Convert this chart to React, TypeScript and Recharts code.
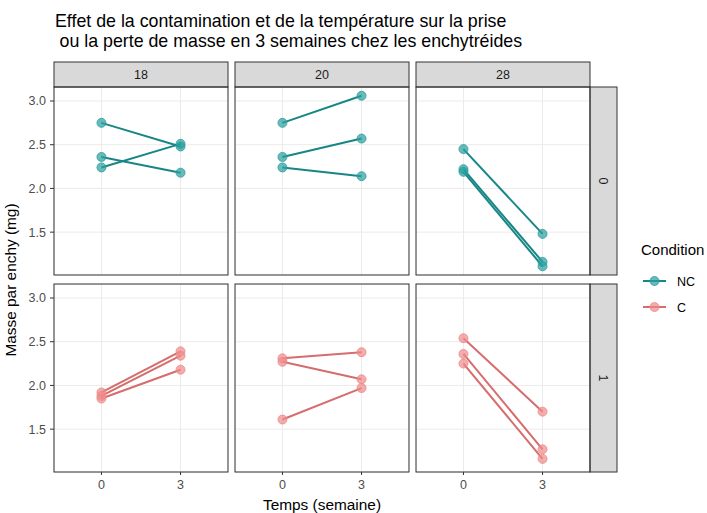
import { CartesianGrid, Line, LineChart, XAxis, YAxis } from "recharts"

// semaines d'exposition
const temps = [0, 3]
const temperatures = ["18", "20", "28"]
const contaminations = ["0", "1"]
const conditions = ["NC", "C"]

// masse par enchy (mg), 3 réplicats par panneau : [semaine 0, semaine 3]
const nc18 = [[2.75, 2.48], [2.24, 2.51], [2.36, 2.18]]
const nc20 = [[2.75, 3.06], [2.36, 2.57], [2.24, 2.14]]
const nc28 = [[2.45, 1.48], [2.22, 1.16], [2.19, 1.11]]
const c18 = [[1.92, 2.39], [1.88, 2.34], [1.85, 2.18]]
const c20 = [[2.31, 2.38], [2.27, 2.07], [1.61, 1.97]]
const c28 = [[2.54, 1.7], [2.36, 1.27], [2.25, 1.16]]

const yMajor = [1.5, 2.0, 2.5, 3.0]
const yGrid = [1.25, 1.5, 1.75, 2.0, 2.25, 2.5, 2.75, 3.0]
const xTicks = [0, 3]

const colors: Record<string, { line: string; dot: string }> = {
  NC: { line: "#188686", dot: "#2a9e9e" },
  C: { line: "#d66c6c", dot: "#ee8a8a" },
}

const FONT = "'Liberation Sans', Arial, sans-serif"
const COLS = [54, 235, 416]
const ROWS = [87, 284]
const PW = 174
const PH = 188
const YW = 40
const XH = 24
const TICK_SIZE = 4
const TICK_MARGIN = 4

const panels = [
  { row: 0, col: 0, cond: "NC", reps: nc18 },
  { row: 0, col: 1, cond: "NC", reps: nc20 },
  { row: 0, col: 2, cond: "NC", reps: nc28 },
  { row: 1, col: 0, cond: "C", reps: c18 },
  { row: 1, col: 1, cond: "C", reps: c20 },
  { row: 1, col: 2, cond: "C", reps: c28 },
]

function YTick(props: any) {
  const { x, y, payload } = props
  if (!yMajor.includes(payload.value)) return <g />
  return (
    <g>
      <line x1={x + TICK_MARGIN} x2={x + TICK_MARGIN + TICK_SIZE} y1={y} y2={y} stroke="#333333" />
      <text x={x} y={y} dy="0.36em" textAnchor="end" fill="#4d4d4d" fontSize={12.5} fontFamily={FONT}>
        {payload.value.toFixed(1)}
      </text>
    </g>
  )
}

function Panel({ row, col, cond, reps }: { row: number; col: number; cond: string; reps: number[][] }) {
  const data = temps.map((t, i) => {
    const d: Record<string, number> = { t }
    reps.forEach((r, k) => (d["r" + k] = r[i]))
    return d
  })
  const left = col === 0
  const bottom = row === 1
  const w = PW + (left ? YW : 0)
  const h = PH + (bottom ? XH : 0)
  const c = colors[cond]
  return (
    <div style={{ position: "absolute", left: COLS[col] - (left ? YW : 0), top: ROWS[row] }}>
      <LineChart width={w} height={h} data={data} margin={{ top: 0, right: 0, bottom: 0, left: 0 }}>
        <CartesianGrid stroke="#ebebeb" strokeWidth={1} />
        <XAxis
          dataKey="t"
          type="number"
          domain={[-1.8, 4.8]}
          allowDataOverflow
          ticks={xTicks}
          hide={!bottom}
          height={XH}
          axisLine={false}
          tickLine={{ stroke: "#333333" }}
          tickSize={3}
          tickMargin={5}
          tick={{ fill: "#4d4d4d", fontSize: 12.5, fontFamily: FONT }}
        />
        <YAxis
          type="number"
          domain={[1.01, 3.16]}
          allowDataOverflow
          ticks={yGrid}
          hide={!left}
          width={YW}
          axisLine={false}
          tickLine={false}
          tickSize={TICK_SIZE}
          tickMargin={TICK_MARGIN}
          tick={<YTick />}
        />
        {reps.map((_, k) => (
          <Line
            key={k}
            type="linear"
            dataKey={"r" + k}
            stroke={c.line}
            strokeWidth={2}
            dot={{ r: 4.5, fill: c.dot, fillOpacity: 0.7, stroke: c.dot, strokeOpacity: 0.8, strokeWidth: 1 }}
            activeDot={false}
            isAnimationActive={false}
          />
        ))}
      </LineChart>
    </div>
  )
}

export default function App() {
  const stripTop = 62
  const stripH = ROWS[0] - stripTop
  const stripRightX = COLS[2] + PW
  return (
    <div style={{ position: "absolute", left: 0, top: 0, width: 707, height: 513, background: "#ffffff", fontFamily: FONT }}>
      {panels.map((p, i) => (
        <Panel key={i} {...p} />
      ))}
      <svg width={707} height={513} style={{ position: "absolute", left: 0, top: 0, pointerEvents: "none" }}>
        <text x={55} y={26.5} fontSize={17.8} fill="#000000" fontFamily={FONT}>
          Effet de la contamination et de la température sur la prise
        </text>
        <text x={59.5} y={46.5} fontSize={17.8} fill="#000000" fontFamily={FONT}>
          ou la perte de masse en 3 semaines chez les enchytréides
        </text>
        {temperatures.map((t, i) => (
          <g key={t}>
            <rect x={COLS[i]} y={stripTop} width={PW} height={stripH} fill="#d9d9d9" stroke="#333333" />
            <text x={COLS[i] + PW / 2} y={stripTop + stripH / 2} dy="0.36em" textAnchor="middle" fontSize={12.5} fill="#1a1a1a" fontFamily={FONT}>
              {t}
            </text>
          </g>
        ))}
        {contaminations.map((c, j) => (
          <g key={c}>
            <rect x={stripRightX} y={ROWS[j]} width={27} height={PH} fill="#d9d9d9" stroke="#333333" />
            <text
              transform={`translate(${stripRightX + 13.5},${ROWS[j] + PH / 2}) rotate(90)`}
              dy="0.36em"
              textAnchor="middle"
              fontSize={12.5}
              fill="#1a1a1a"
              fontFamily={FONT}
            >
              {c}
            </text>
          </g>
        ))}
        {ROWS.map((ry) =>
          COLS.map((cx) => <rect key={`${cx}-${ry}`} x={cx} y={ry} width={PW} height={PH} fill="none" stroke="#333333" />)
        )}
        <text x={322} y={510} textAnchor="middle" fontSize={15.4} fill="#000000" fontFamily={FONT}>
          Temps (semaine)
        </text>
        <text transform="translate(16,280) rotate(-90)" textAnchor="middle" fontSize={15.4} fill="#000000" fontFamily={FONT}>
          Masse par enchy (mg)
        </text>
        <text x={641} y={255} fontSize={15} fill="#000000" fontFamily={FONT}>
          Condition
        </text>
        {conditions.map((c, i) => {
          const ky = 281 + i * 26
          return (
            <g key={c}>
              <line x1={643} x2={666} y1={ky} y2={ky} stroke={colors[c].line} strokeWidth={2} />
              <circle cx={654.5} cy={ky} r={4.5} fill={colors[c].dot} fillOpacity={0.7} stroke={colors[c].dot} strokeOpacity={0.8} />
              <text x={677} y={ky} dy="0.36em" fontSize={12.5} fill="#000000" fontFamily={FONT}>
                {c}
              </text>
            </g>
          )
        })}
      </svg>
    </div>
  )
}
